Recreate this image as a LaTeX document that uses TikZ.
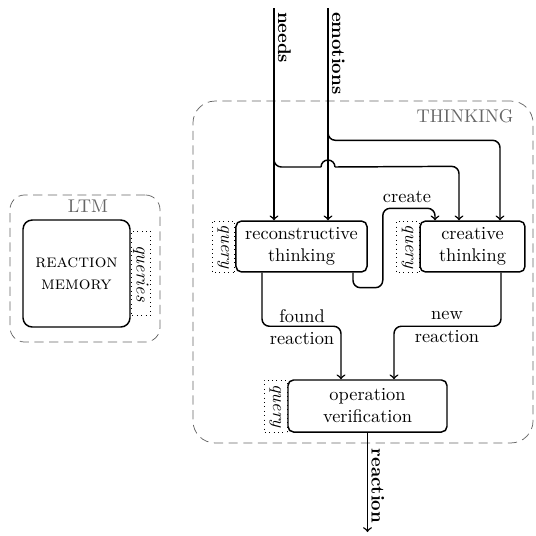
\documentclass[tikz,border=0pt]{standalone}
\usepackage{amsmath, amssymb}
\usetikzlibrary{shapes,arrows,calc,positioning,backgrounds}

\begin{document}
\begin{tikzpicture}[x=0.544pt, y=-0.544pt,
  block/.style={draw=black, thick, rounded corners=3pt, align=center, minimum height=27.7pt},
  querybox/.style={draw=black, dotted, rotate=-90, font=\itshape, inner sep=1pt},
  group/.style={draw=black!60, dash pattern=on 5pt off 3pt},
  grouplabel/.style={text=black!60},
  flow/.style={->, thick, rounded corners=4pt},
  inlabel/.style={rotate=-90, font=\bfseries, anchor=south west, inner sep=2pt}]
  \useasboundingbox (0,0) rectangle (536,536);

  % groups
  \node[group, rounded corners=8pt, minimum width=81.6pt, minimum height=80pt] (ltm) at (85,268.5) {};
  \node[grouplabel] (ltmlabel) at (88,206) {LTM};
  \node[group, rounded corners=12pt, minimum width=185pt, minimum height=186pt] (thinking) at (363,272) {};
  \node[grouplabel] (thinkinglabel) at (465,116) {THINKING};

  % memory
  \node[block, rounded corners=5pt, minimum width=58.2pt, minimum height=58.2pt] (mem) at (76.5,273.5) {\textsc{reaction}\\\textsc{memory}};
  \node[querybox, minimum width=46pt, minimum height=9pt, anchor=south] (memq) at (mem.east) {queries};

  % thinking blocks
  \node[block, minimum width=71.3pt] (recon) at (301.5,246.5) {reconstructive\\thinking};
  \node[block, minimum width=57.1pt] (creat) at (472.5,246.5) {creative\\thinking};
  \node[block, minimum width=86.5pt, minimum height=28.3pt] (op) at (367.5,406) {operation\\verification};
  \node[querybox, minimum width=27.7pt, minimum height=12.5pt, anchor=north] (reconq) at (recon.west) {query};
  \node[querybox, minimum width=27.7pt, minimum height=12.5pt, anchor=north] (creatq) at (creat.west) {query};
  \node[querybox, minimum width=28.3pt, minimum height=12.5pt, anchor=north] (opq) at (op.west) {query};

  % inputs
  \coordinate (needsin) at (274,8);
  \coordinate (emoin) at (328,8);
  \coordinate (reactout) at (367.5,532);
  \node[inlabel] (needslabel) at (needsin) {needs};
  \node[inlabel] (emolabel) at (emoin) {emotions};
  \node[inlabel] (reactlabel) at ($(op.south)+(0,12)$) {reaction};

  \draw[flow] (needsin) -- (needsin |- recon.north);
  \draw[flow] (emoin) -- (emoin |- recon.north);
  \draw[flow] ($(emoin)+(0,120)$) |- ($(creat.north)+(27.5,-80)$) -- ($(creat.north)+(27.5,0)$);
  % needs to creative, jumping over emotions
  \draw[thick, rounded corners=4pt] ($(needsin)+(0,142)$) |- ($(emoin)+(-7,159)$);
  \draw[thick] ($(emoin)+(-7,159)$) arc[start angle=180, end angle=0, radius=3.8pt];
  \draw[flow] ($(emoin)+(7,159)$) -- ($(creat.north)+(-13.5,-54)$) -- ($(creat.north)+(-13.5,0)$);

  % create
  \draw[flow] ($(recon.south)+(51.5,0)$) |- ($(recon.south east)+(15,15)$) |- ($(creat.north)+(-37.5,-12)$) -- ($(creat.north)+(-37.5,0)$);
  \node (createlabel) at (407,197) {create};

  % reactions
  \draw[flow] ($(recon.south)+(-39.5,0)$) |- ($(op.north)+(-26.5,-53)$) -- ($(op.north)+(-26.5,0)$);
  \draw[flow] ($(creat.south)+(28.5,0)$) |- ($(op.north)+(26.5,-53)$) -- ($(op.north)+(26.5,0)$);
  \node[align=center] (foundlabel) at (302,327) {found\\reaction};
  \node[align=center] (newlabel) at (447,327) {new\\reaction};
  \draw[flow] (op.south) -- (reactout);
\end{tikzpicture}
\end{document}
